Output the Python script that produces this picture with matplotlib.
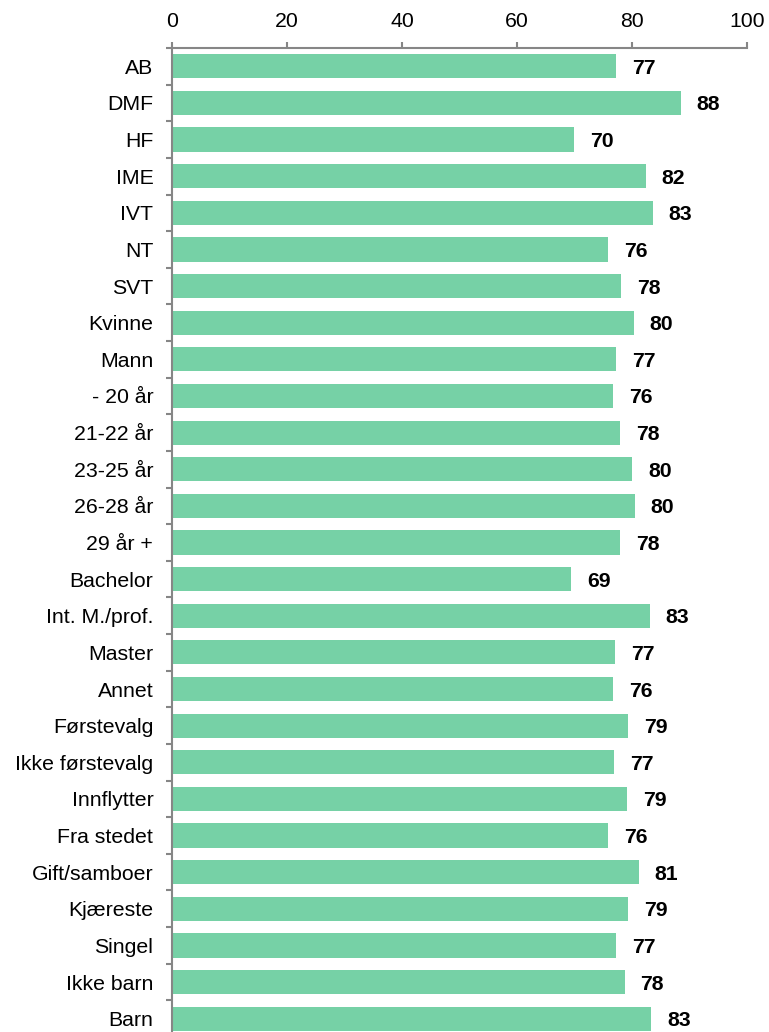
import matplotlib.pyplot as plt
import numpy as np

plt.rcParams['font.family'] = ['Liberation Sans', 'DejaVu Sans']

# categories top to bottom
labels = ['AB', 'DMF', 'HF', 'IME', 'IVT', 'NT', 'SVT', 'Kvinne', 'Mann',
          '- 20 år', '21-22 år', '23-25 år', '26-28 år', '29 år +',
          'Bachelor', 'Int. M./prof.', 'Master', 'Annet',
          'Førstevalg', 'Ikke førstevalg', 'Innflytter', 'Fra stedet',
          'Gift/samboer', 'Kjæreste', 'Singel', 'Ikke barn', 'Barn']
values = [77.2, 88.5, 69.9, 82.4, 83.6, 75.8, 78.1, 80.3, 77.2,
          76.7, 77.9, 80.0, 80.5, 77.9,
          69.4, 83.1, 77.0, 76.7,
          79.3, 76.9, 79.1, 75.8,
          81.2, 79.3, 77.3, 78.7, 83.3]
shown = [77, 88, 70, 82, 83, 76, 78, 80, 77,
         76, 78, 80, 80, 78,
         69, 83, 77, 76,
         79, 77, 79, 76,
         81, 79, 77, 78, 83]

bar_col = '#76D1A6'
axis_col = '#868686'

fig = plt.figure(figsize=(7.69, 10.32), dpi=100)
ax = fig.add_axes([172/769, -5/1032, 575/769, (1032-48+5)/1032])

y = np.arange(len(labels))
ax.barh(y, values, height=0.66, color=bar_col)

for yi, v, s in zip(y, values, shown):
    ax.annotate(str(s), (v, yi), xytext=(11.5, 0), textcoords='offset points',
                ha='left', va='center_baseline', fontsize=15.3, fontweight='bold')

ax.set_xlim(0, 100)
ax.set_ylim(len(labels) - 0.5, -0.5)
ax.set_xticks(range(0, 101, 20))
ax.xaxis.tick_top()
ax.tick_params(axis='x', direction='out', length=4, width=1.5, color=axis_col,
               labelsize=15.3, pad=8)

ax.set_yticks(y)
ax.set_yticklabels(labels)
ax.set_yticks(np.arange(-0.5, len(labels), 1), minor=True)
ax.tick_params(axis='y', which='major', length=0, labelsize=15.3, pad=13.5)
ax.tick_params(axis='y', which='minor', length=4, width=1.5, color=axis_col)

for side in ['right', 'bottom']:
    ax.spines[side].set_visible(False)
for side in ['top', 'left']:
    ax.spines[side].set_color(axis_col)
    ax.spines[side].set_linewidth(1.5)

plt.savefig('out.png', dpi=100)
